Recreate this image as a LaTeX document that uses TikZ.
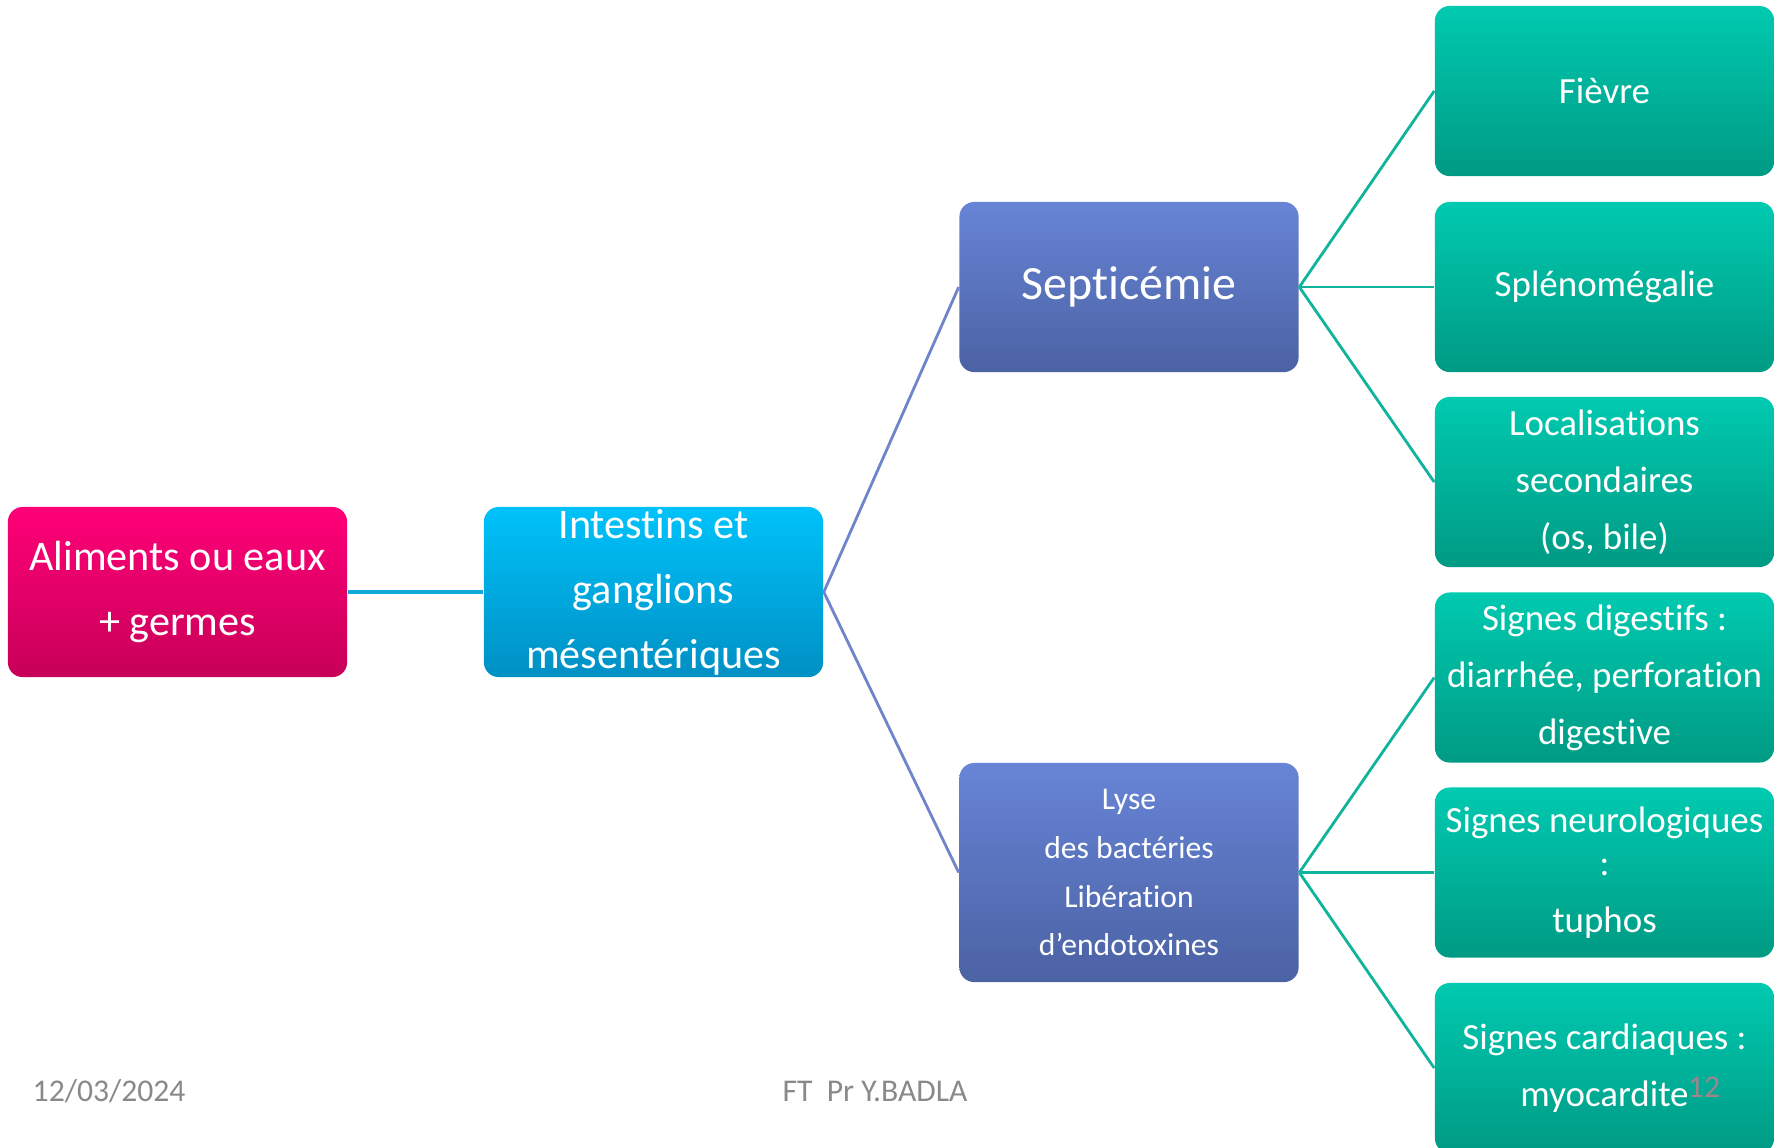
\documentclass[tikz,border=0pt]{standalone}
\usepackage{fontspec}
\setmainfont{Carlito}[Ligatures=NoCommon]
\usetikzlibrary{positioning}

\definecolor{pinktop}{HTML}{FF0078}
\definecolor{pinkbot}{HTML}{C70058}
\definecolor{cyantop}{HTML}{00C2FA}
\definecolor{cyanbot}{HTML}{0090C4}
\definecolor{bluetop}{HTML}{6784D6}
\definecolor{bluebot}{HTML}{4B62A3}
\definecolor{tealtop}{HTML}{00CAB0}
\definecolor{tealbot}{HTML}{009A84}
\definecolor{cyanline}{HTML}{0FA8D8}
\definecolor{blueline}{HTML}{6E85CC}
\definecolor{tealline}{HTML}{11B39C}
\definecolor{footgray}{HTML}{898989}
\definecolor{pagenum}{HTML}{A0848C}

\begin{document}
\begin{tikzpicture}[x=0.01cm,y=-0.01cm,
  box/.style={rounded corners=4.2pt,minimum width=3.39cm,minimum height=1.70cm,inner sep=0pt,align=center,text=white},
  pinkbox/.style={box,top color=pinktop,bottom color=pinkbot,font=\fontsize{12}{18.5}\selectfont},
  cyanbox/.style={box,top color=cyantop,bottom color=cyanbot,font=\fontsize{12}{18.5}\selectfont},
  bluebox/.style={box,top color=bluetop,bottom color=bluebot},
  tealbox/.style={box,top color=tealtop,bottom color=tealbot,font=\fontsize{10.5}{16.2}\selectfont},
  link/.style={line width=0.8pt},
  foot/.style={text=footgray,inner sep=0pt,font=\fontsize{9}{11}\selectfont}]
\useasboundingbox (0,0) rectangle (1780,1147);

\node[pinkbox] (aliments) at (177.5,592) {Aliments ou eaux\\+ germes};
\node[cyanbox] (intestins) at (653.5,592) {Intestins et\\ganglions\\mésentériques};
\node[bluebox,font=\fontsize{13.6}{16}\selectfont] (septicemie) at (1129,287) {Septicémie};
\node[bluebox,minimum height=2.19cm,font=\fontsize{9}{13.9}\selectfont] (lyse) at (1129,872.5)
  {Lyse\\des bactéries\\Libération\\d’endotoxines};

\node[tealbox] (fievre) at (1604.5,91) {Fièvre};
\node[tealbox] (splen) at (1604.5,287) {Splénomégalie};
\node[tealbox] (local) at (1604.5,482) {Localisations\\secondaires\\(os, bile)};
\node[tealbox] (digest) at (1604.5,677.5) {Signes digestifs :\\diarrhée, perforation\\digestive};
\node[tealbox] (neuro) at (1604.5,872.5) {Signes neurologiques\\[-4pt]:\\tuphos};
\node[tealbox] (cardio) at (1604.5,1068) {Signes cardiaques :\\myocardite};

\draw[link,line width=1.1pt,cyanline] (aliments) -- (intestins);
\draw[link,blueline] (intestins.east) -- (septicemie.west);
\draw[link,blueline] (intestins.east) -- (lyse.west);
\foreach \n in {fievre,splen,local}
  \draw[link,tealline] (septicemie.east) -- (\n.west);
\foreach \n in {digest,neuro,cardio}
  \draw[link,tealline] (lyse.east) -- (\n.west);

% pied de page
\node[foot,anchor=west] (date) at (32,1091) {12/03/2024};
\node[foot] (auteur) at (875,1091) {FT\ \ Pr Y.BADLA};
\node[foot,text=pagenum] (page) at (1704,1087) {12};
\end{tikzpicture}
\end{document}
